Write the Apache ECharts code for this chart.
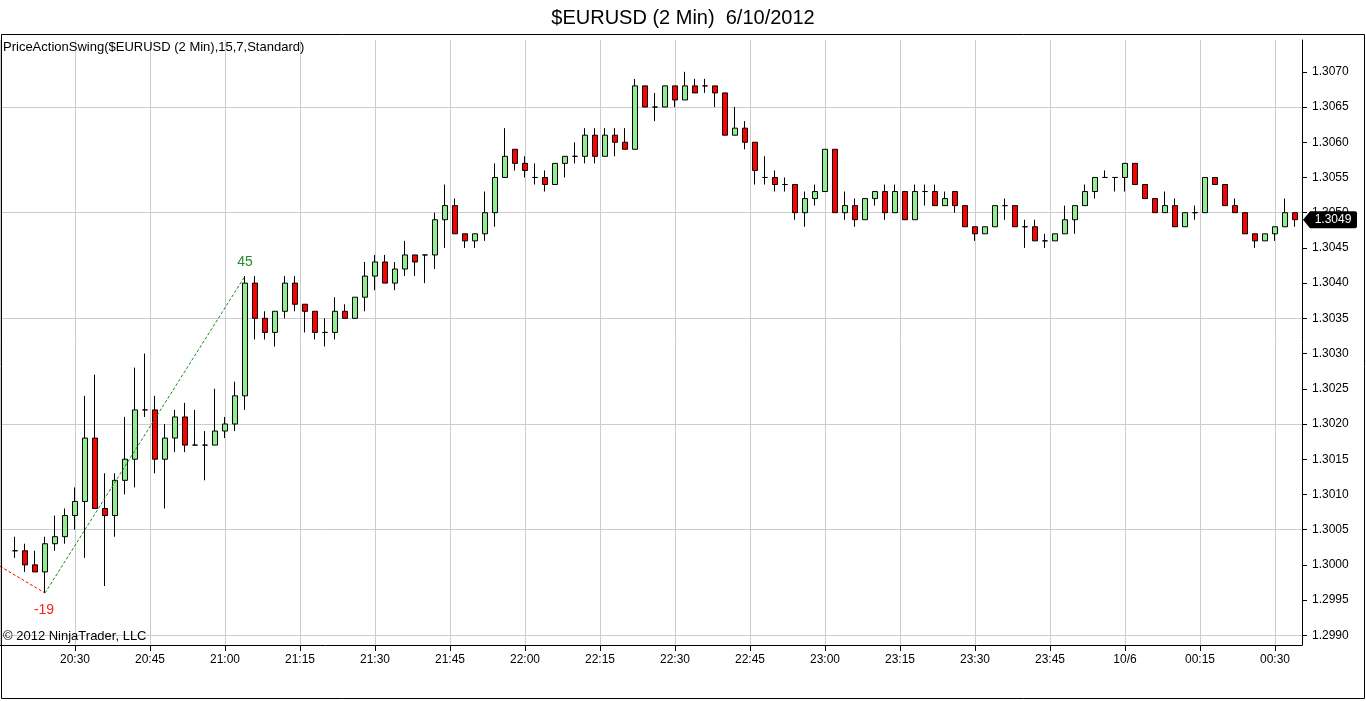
<!DOCTYPE html>
<html>
<head>
<meta charset="utf-8">
<script src="https://cdn.jsdelivr.net/npm/echarts@6/dist/echarts.min.js"></script>
<style>
html,body{margin:0;padding:0;background:#fff;}
#chart{width:1366px;height:701px;}
</style>
</head>
<body>
<div id="chart"></div>
<script>
const barTimes = [
'20:18','20:20','20:22','20:24','20:26','20:28','20:30','20:32','20:34','20:36',
'20:38','20:40','20:42','20:44','20:46','20:48','20:50','20:52','20:54','20:56',
'20:58','21:00','21:02','21:04','21:06','21:08','21:10','21:12','21:14','21:16',
'21:18','21:20','21:22','21:24','21:26','21:28','21:30','21:32','21:34','21:36',
'21:38','21:40','21:42','21:44','21:46','21:48','21:50','21:52','21:54','21:56',
'21:58','22:00','22:02','22:04','22:06','22:08','22:10','22:12','22:14','22:16',
'22:18','22:20','22:22','22:24','22:26','22:28','22:30','22:32','22:34','22:36',
'22:38','22:40','22:42','22:44','22:46','22:48','22:50','22:52','22:54','22:56',
'22:58','23:00','23:02','23:04','23:06','23:08','23:10','23:12','23:14','23:16',
'23:18','23:20','23:22','23:24','23:26','23:28','23:30','23:32','23:34','23:36',
'23:38','23:40','23:42','23:44','23:46','23:48','23:50','23:52','23:54','23:56',
'23:58','00:00','00:02','00:04','00:06','00:08','00:10','00:12','00:14','00:16',
'00:18','00:20','00:22','00:24','00:26','00:28','00:30','00:32','00:34'
];

const openPrices = [
1.3002,1.3002,1.3000,1.2999,1.3003,1.3004,1.3007,1.3009,1.3018,1.3008,
1.3007,1.3012,1.3015,1.3022,1.3022,1.3015,1.3018,1.3021,1.3017,1.3017,
1.3017,1.3019,1.3020,1.3024,1.3040,1.3035,1.3033,1.3036,1.3040,1.3037,
1.3036,1.3033,1.3033,1.3036,1.3035,1.3038,1.3041,1.3043,1.3040,1.3042,
1.3044,1.3044,1.3044,1.3049,1.3051,1.3047,1.3046,1.3047,1.3050,1.3055,
1.3059,1.3057,1.3055,1.3055,1.3054,1.3057,1.3058,1.3058,1.3061,1.3058,
1.3061,1.3060,1.3059,1.3068,1.3065,1.3065,1.3068,1.3066,1.3068,1.3068,
1.3068,1.3067,1.3061,1.3062,1.3060,1.3055,1.3055,1.3054,1.3054,1.3050,
1.3052,1.3053,1.3059,1.3050,1.3051,1.3049,1.3052,1.3053,1.3050,1.3053,
1.3049,1.3053,1.3053,1.3051,1.3053,1.3051,1.3048,1.3047,1.3048,1.3051,
1.3051,1.3048,1.3048,1.3046,1.3046,1.3047,1.3049,1.3051,1.3053,1.3055,
1.3055,1.3055,1.3057,1.3054,1.3052,1.3050,1.3051,1.3048,1.3050,1.3050,
1.3055,1.3054,1.3051,1.3050,1.3047,1.3046,1.3047,1.3048,1.3050
];
const highPrices = [
1.3004,1.3003,1.3002,1.3004,1.3007,1.3008,1.3011,1.3024,1.3027,1.3013,
1.3013,1.3021,1.3028,1.3030,1.3024,1.3020,1.3022,1.3023,1.3022,1.3019,
1.3025,1.3021,1.3026,1.3041,1.3041,1.3036,1.3036,1.3041,1.3041,1.3037,
1.3036,1.3035,1.3038,1.3037,1.3038,1.3043,1.3044,1.3044,1.3043,1.3046,
1.3044,1.3044,1.3050,1.3054,1.3052,1.3047,1.3047,1.3053,1.3057,1.3062,
1.3059,1.3058,1.3057,1.3056,1.3057,1.3058,1.3060,1.3062,1.3062,1.3062,
1.3062,1.3062,1.3069,1.3068,1.3067,1.3068,1.3068,1.3070,1.3069,1.3069,
1.3068,1.3067,1.3065,1.3063,1.3060,1.3058,1.3056,1.3055,1.3054,1.3053,
1.3054,1.3059,1.3059,1.3053,1.3052,1.3052,1.3053,1.3054,1.3054,1.3053,
1.3054,1.3054,1.3054,1.3053,1.3053,1.3051,1.3048,1.3048,1.3051,1.3052,
1.3051,1.3049,1.3049,1.3047,1.3047,1.3051,1.3051,1.3054,1.3055,1.3056,
1.3055,1.3057,1.3057,1.3054,1.3052,1.3053,1.3052,1.3050,1.3051,1.3055,
1.3055,1.3054,1.3052,1.3050,1.3047,1.3047,1.3048,1.3052,1.3050
];
const lowPrices = [
1.3001,1.2999,1.2999,1.2996,1.3002,1.3003,1.3005,1.3001,1.3008,1.2997,
1.3004,1.3010,1.3011,1.3021,1.3013,1.3008,1.3016,1.3016,1.3017,1.3012,
1.3017,1.3018,1.3019,1.3022,1.3032,1.3032,1.3031,1.3035,1.3036,1.3033,
1.3032,1.3031,1.3032,1.3035,1.3035,1.3036,1.3039,1.3040,1.3039,1.3041,
1.3041,1.3040,1.3042,1.3045,1.3047,1.3045,1.3045,1.3046,1.3048,1.3055,
1.3056,1.3055,1.3054,1.3053,1.3054,1.3055,1.3057,1.3057,1.3057,1.3058,
1.3058,1.3059,1.3059,1.3065,1.3063,1.3065,1.3065,1.3066,1.3067,1.3067,
1.3065,1.3061,1.3061,1.3059,1.3054,1.3054,1.3053,1.3053,1.3049,1.3048,
1.3051,1.3053,1.3050,1.3049,1.3048,1.3049,1.3051,1.3049,1.3050,1.3049,
1.3049,1.3051,1.3051,1.3051,1.3050,1.3048,1.3046,1.3047,1.3048,1.3049,
1.3048,1.3045,1.3046,1.3045,1.3046,1.3047,1.3047,1.3051,1.3052,1.3055,
1.3053,1.3053,1.3054,1.3052,1.3050,1.3050,1.3048,1.3048,1.3049,1.3050,
1.3054,1.3051,1.3050,1.3047,1.3045,1.3046,1.3046,1.3048,1.3048
];
const closePrices = [
1.3002,1.3000,1.2999,1.3003,1.3004,1.3007,1.3009,1.3018,1.3008,1.3007,
1.3012,1.3015,1.3022,1.3022,1.3015,1.3018,1.3021,1.3017,1.3017,1.3017,
1.3019,1.3020,1.3024,1.3040,1.3035,1.3033,1.3036,1.3040,1.3037,1.3036,
1.3033,1.3033,1.3036,1.3035,1.3038,1.3041,1.3043,1.3040,1.3042,1.3044,
1.3043,1.3044,1.3049,1.3051,1.3047,1.3046,1.3047,1.3050,1.3055,1.3058,
1.3057,1.3056,1.3055,1.3054,1.3057,1.3058,1.3058,1.3061,1.3058,1.3061,
1.3060,1.3059,1.3068,1.3065,1.3065,1.3068,1.3066,1.3068,1.3067,1.3068,
1.3067,1.3061,1.3062,1.3060,1.3056,1.3055,1.3054,1.3054,1.3050,1.3052,
1.3053,1.3059,1.3050,1.3051,1.3049,1.3052,1.3053,1.3050,1.3053,1.3049,
1.3053,1.3053,1.3051,1.3052,1.3051,1.3048,1.3047,1.3048,1.3051,1.3051,
1.3048,1.3048,1.3046,1.3046,1.3047,1.3049,1.3051,1.3053,1.3055,1.3055,
1.3055,1.3057,1.3054,1.3052,1.3050,1.3051,1.3048,1.3050,1.3050,1.3055,
1.3054,1.3051,1.3050,1.3047,1.3046,1.3047,1.3048,1.3050,1.3049
];

// swing lines (PriceActionSwing indicator)
const downSwing = [['20:15', 1.29998], ['20:24', 1.2996]];
const upSwing = [['20:24', 1.2996], ['21:04', 1.3041]];
const swingLabels = ['-19', '45'];

const xTickLabels = ['20:30','20:45','21:00','21:15','21:30','21:45','22:00','22:15','22:30','22:45','23:00','23:15','23:30','23:45','10/6','00:15','00:30'];
const yGridLevels = [1.2990, 1.3065];   // first / last horizontal grid line, every 0.0015

const titleText = '$EURUSD (2 Min)  6/10/2012';
const indicatorText = 'PriceActionSwing($EURUSD (2 Min),15,7,Standard)';
const copyrightText = '\u00a9 2012 NinjaTrader, LLC';

function toMin(t) {
  const p = t.split(':').map(Number);
  return ((p[0] - 20 + 24) % 24) * 60 + p[1];
}

const X_MIN = 15, X_MAX = 275.4;
const FONT = "'Liberation Sans', Arial, sans-serif";

// pixel geometry of the price scale (1.3070 at y=71.8, 1.2990 at y=635.3)
const PRICE_TOP = 71.8, PRICE_BOTTOM = 635.3;
const pxPerUnit = (PRICE_BOTTOM - PRICE_TOP) / (1.3070 - 1.2990);
const gridTop2 = PRICE_BOTTOM - (yGridLevels[1] - 1.2990) * pxPerUnit;

const candleData = barTimes.map((t, i) => [toMin(t), openPrices[i], closePrices[i], lowPrices[i], highPrices[i]]);
const lastClose = closePrices[closePrices.length - 1];

const chart = echarts.init(document.getElementById('chart'), null, {renderer: 'canvas'});

const option = {
  animation: false,
  backgroundColor: '#ffffff',
  textStyle: {fontFamily: FONT},
  title: [
    {text: titleText, left: 'center', top: 8, padding: 0,
     textStyle: {fontSize: 20, fontWeight: 'normal', color: '#000', fontFamily: FONT}},
    {text: indicatorText, left: 3, top: 41, padding: 0,
     textStyle: {fontSize: 13, fontWeight: 'normal', color: '#000', fontFamily: FONT}},
    {text: copyrightText, left: 3, top: 630, padding: 0,
     textStyle: {fontSize: 13, fontWeight: 'normal', color: '#000', fontFamily: FONT}}
  ],
  grid: [
    {left: 0, right: 64, top: 40, bottom: 56, containLabel: false},
    {left: 0, right: 64, top: PRICE_TOP, bottom: 701 - PRICE_BOTTOM, containLabel: false},
    {left: 0, right: 64, top: gridTop2, bottom: 701 - PRICE_BOTTOM, containLabel: false}
  ],
  xAxis: [
    {
      type: 'value', gridIndex: 0, min: X_MIN, max: X_MAX, interval: 15,
      axisLine: {show: true, lineStyle: {color: '#000', width: 1}},
      axisTick: {show: true, length: 6, lineStyle: {color: '#000'}},
      axisLabel: {
        show: true, color: '#000', fontSize: 12, fontFamily: FONT, margin: 9,
        showMinLabel: false, showMaxLabel: false,
        formatter: function (v) {
          const i = Math.round((v - 30) / 15);
          if (i < 0 || i >= xTickLabels.length || Math.abs(v - (30 + 15 * i)) > 1e-6) return '';
          return xTickLabels[i];
        }
      },
      splitLine: {show: true, lineStyle: {color: '#cccccc', width: 1}}
    },
    {type: 'value', gridIndex: 1, min: X_MIN, max: X_MAX, show: false},
    {type: 'value', gridIndex: 2, min: X_MIN, max: X_MAX, show: false}
  ],
  yAxis: [
    {
      type: 'value', gridIndex: 0, position: 'right', min: 0, max: 1,
      axisLine: {show: true, onZero: false, lineStyle: {color: '#000', width: 1}},
      axisTick: {show: false}, axisLabel: {show: false}, splitLine: {show: false}
    },
    {
      type: 'value', gridIndex: 1, position: 'right', min: 1.2990, max: 1.3070, interval: 0.0005,
      axisLine: {show: false},
      axisTick: {show: true, length: 5, lineStyle: {color: '#000'}},
      axisLabel: {show: true, color: '#000', fontSize: 12, fontFamily: FONT, margin: 10,
        formatter: v => v.toFixed(4)},
      splitLine: {show: false}
    },
    {
      type: 'value', gridIndex: 2, position: 'right', min: yGridLevels[0], max: yGridLevels[1], interval: 0.0015,
      axisLine: {show: false}, axisTick: {show: false}, axisLabel: {show: false},
      splitLine: {show: true, lineStyle: {color: '#cccccc', width: 1}}
    }
  ],
  series: [
    {
      type: 'candlestick', name: '$EURUSD', xAxisIndex: 1, yAxisIndex: 1, z: 2,
      data: candleData,
      encode: {x: 0, y: [1, 2, 3, 4]},
      barWidth: 6,
      clip: false,
      itemStyle: {color: '#90ee90', color0: '#ff0000', borderColor: '#000000', borderColor0: '#000000', borderWidth: 1},
      markPoint: {
        silent: true,
        symbol: 'path://M0,8.5 L7,0 L52,0 Q54,0 54,2 L54,15 Q54,17 52,17 L7,17 Z',
        symbolKeepAspect: false,
        symbolSize: [54, 17],
        symbolOffset: [28, 0],
        itemStyle: {color: '#000'},
        label: {show: true, color: '#fff', fontSize: 12, fontFamily: FONT, offset: [3, 0],
          formatter: () => lastClose.toFixed(4)},
        data: [{coord: [X_MAX, lastClose]}]
      }
    },
    {
      type: 'line', name: 'downSwing', xAxisIndex: 1, yAxisIndex: 1, z: 3,
      data: downSwing.map(p => [toMin(p[0]), p[1]]),
      symbol: 'none', silent: true,
      lineStyle: {color: '#ff0000', width: 1, type: [3, 2]},
      markPoint: {
        silent: true, symbol: 'circle', symbolSize: 1, itemStyle: {color: 'rgba(0,0,0,0)'},
        label: {show: true, color: '#ff2020', fontSize: 14, fontFamily: FONT, position: 'inside', offset: [-1, 17],
          formatter: () => swingLabels[0]},
        data: [{coord: [toMin(downSwing[1][0]), downSwing[1][1]]}]
      }
    },
    {
      type: 'line', name: 'upSwing', xAxisIndex: 1, yAxisIndex: 1, z: 3,
      data: upSwing.map(p => [toMin(p[0]), p[1]]),
      symbol: 'none', silent: true,
      lineStyle: {color: '#1a8a1a', width: 1, type: [3, 2]},
      markPoint: {
        silent: true, symbol: 'circle', symbolSize: 1, itemStyle: {color: 'rgba(0,0,0,0)'},
        label: {show: true, color: '#2a8a2a', fontSize: 14, fontFamily: FONT, position: 'inside', offset: [0, -14],
          formatter: () => swingLabels[1]},
        data: [{coord: [toMin(upSwing[1][0]), upSwing[1][1]]}]
      }
    }
  ],
  graphic: [
    {type: 'rect', silent: true, z: 10,
     shape: {x: 1.5, y: 34.5, width: 1363, height: 664},
     style: {fill: 'none', stroke: '#000', lineWidth: 1}}
  ]
};

chart.setOption(option);
</script>
</body>
</html>
